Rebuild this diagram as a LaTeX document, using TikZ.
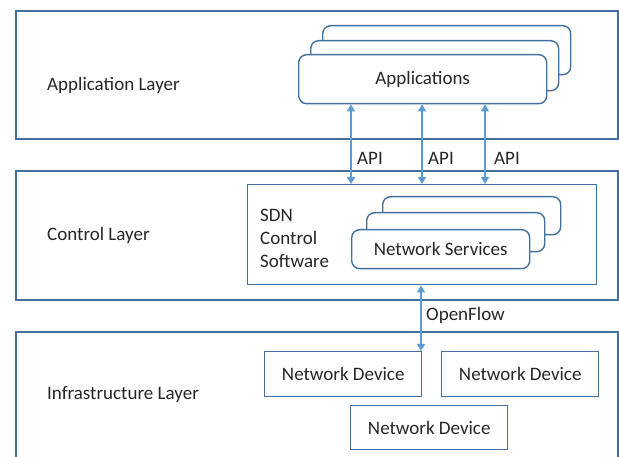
\documentclass[tikz,border=0pt]{standalone}
\usepackage{fontspec}
\setmainfont{Carlito}
\usetikzlibrary{arrows.meta}
\definecolor{edgeblue}{HTML}{41719C}
\definecolor{arrowblue}{HTML}{5B9BD5}
\begin{document}
\begin{tikzpicture}[x=1pt,y=-1pt,
  every node/.style={font=\fontsize{19}{23}\selectfont, text=black!85},
  layerbox/.style={draw=edgeblue, line width=1.6pt, inner sep=0pt, anchor=north west, fill=white},
  plainbox/.style={draw=edgeblue, line width=1.4pt, inner sep=0pt, anchor=north west, fill=white},
  roundbox/.style={plainbox, rounded corners=8pt},
  lbl/.style={inner sep=0pt, anchor=west, align=left},
  arr/.style={draw=arrowblue, line width=1.1pt, {Triangle[width=8pt,length=7pt]}-{Triangle[width=8pt,length=7pt]}}]
\useasboundingbox (0,0) rectangle (619,457);
\clip (0,0) rectangle (619,457);
% layers
\node[layerbox, minimum width=602pt, minimum height=128pt] (applayer) at (15,10) {};
\node[layerbox, minimum width=602pt, minimum height=129pt] (ctrllayer) at (15,170) {};
\node[layerbox, minimum width=602pt, minimum height=160pt] (infralayer) at (15,331) {};
\node[lbl] (lapp) at (47,85) {Application Layer};
\node[lbl] (lctrl) at (47,235) {Control Layer};
\node[lbl] (linfra) at (47,395) {Infrastructure Layer};
% applications stack
\node[roundbox, minimum width=248pt, minimum height=49pt] (appB) at (322,25) {};
\node[roundbox, minimum width=248pt, minimum height=50pt] (appM) at (310,40) {};
\node[roundbox, minimum width=248pt, minimum height=49pt] (appF) at (298,54) {};
\node (apptext) at (appF.center) {Applications};
% SDN control software
\node[plainbox, minimum width=349pt, minimum height=100pt] (sdn) at (247,184) {};
\node[lbl] (sdntext) at (260,238) {SDN\\Control\\Software};
\node[roundbox, minimum width=178pt, minimum height=38pt] (nsB) at (382,196) {};
\node[roundbox, minimum width=178pt, minimum height=39pt] (nsM) at (366,212) {};
\node[roundbox, minimum width=178pt, minimum height=39pt] (nsF) at (351,229) {};
\node (nstext) at (nsF.center) {Network Services};
% devices
\node[plainbox, minimum width=157pt, minimum height=45pt] (devL) at (264,351) {};
\node (devLt) at (devL.center) {Network Device};
\node[plainbox, minimum width=157pt, minimum height=45pt] (devR) at (441,351) {};
\node (devRt) at (devR.center) {Network Device};
\node[plainbox, minimum width=157pt, minimum height=44pt] (devB) at (350,405) {};
\node (devBt) at (devB.center) {Network Device};
% arrows
\coordinate (x1) at (351,0);
\coordinate (x2) at (422,0);
\coordinate (x3) at (485,0);
\coordinate (x4) at (421,0);
\draw[arr] (appF.south -| x1) -- (sdn.north -| x1);
\draw[arr] (appF.south -| x2) -- (sdn.north -| x2);
\draw[arr] (appF.south -| x3) -- (sdn.north -| x3);
\draw[arr] (sdn.south -| x4) -- (devL.north -| x4);
\node[lbl] (api1) at (357,158) {API};
\node[lbl] (api2) at (428,158) {API};
\node[lbl] (api3) at (494,158) {API};
\node[lbl] (of) at (426,315) {OpenFlow};
\end{tikzpicture}
\end{document}
